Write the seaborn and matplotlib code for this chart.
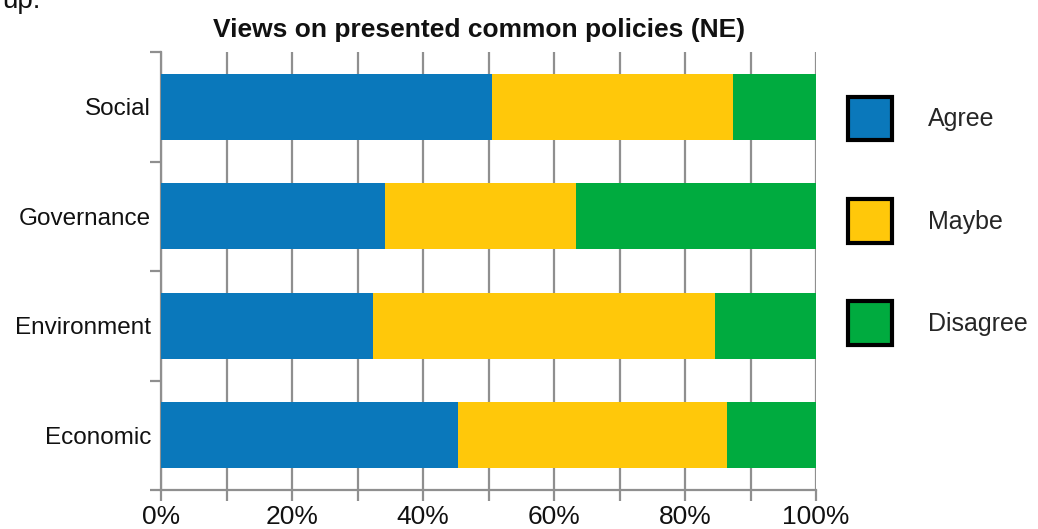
import numpy as np
import pandas as pd
import matplotlib
matplotlib.use("Agg")
import matplotlib.pyplot as plt
import seaborn as sns
from matplotlib.patches import Patch
from matplotlib.ticker import MultipleLocator, FixedLocator

# data (percent of respondents)
categories = ["Social", "Governance", "Environment", "Economic"]
agree = [50.5, 34.2, 32.4, 45.3]
maybe = [36.8, 29.2, 52.2, 41.1]
disagree = [12.7, 36.6, 15.4, 13.6]
series_names = ["Agree", "Maybe", "Disagree"]
colors = ["#0a78bb", "#ffc80a", "#00ab3f"]

sns.set_theme(style="white")
plt.rcParams["font.family"] = ["Liberation Sans", "DejaVu Sans"]

df = pd.DataFrame({"Category": categories, "Agree": agree,
                   "Maybe": maybe, "Disagree": disagree})
df["cum_maybe"] = df["Agree"] + df["Maybe"]
df["cum_all"] = df["cum_maybe"] + df["Disagree"]

fig = plt.figure(figsize=(10.38, 5.29), dpi=100)
ax = fig.add_axes([0.1551, 0.0737, 0.6311, 0.828])

# stacked by overlaying cumulative totals, back to front
for col, c in zip(["cum_all", "cum_maybe", "Agree"], colors[::-1]):
    sns.barplot(data=df, y="Category", x=col, orient="h", color=c,
                width=0.6, saturation=1, linewidth=0, ax=ax, zorder=3)

ax.set_xlim(0, 100)
ax.set_ylim(3.5, -0.5)
ax.xaxis.set_major_locator(MultipleLocator(20))
ax.xaxis.set_minor_locator(MultipleLocator(10))
ax.set_xticklabels([f"{int(v)}%" for v in ax.get_xticks()])
ax.grid(True, axis="x", which="both", color="#8f8f8f", linewidth=1.6, zorder=0)
ax.set_axisbelow(True)

ax.yaxis.set_minor_locator(FixedLocator(np.arange(-0.5, 4, 1)))
ax.tick_params(axis="y", which="major", length=0, pad=7, labelsize=17.5, labelcolor="#111111")
ax.tick_params(axis="y", which="minor", length=8, width=1.6, color="#8f8f8f", left=True)
ax.tick_params(axis="x", which="both", length=8, width=1.6, color="#8f8f8f",
               bottom=True, labelsize=19, labelcolor="#111111", pad=3)
ax.set_xlabel("")
ax.set_ylabel("")

for s in ["top", "right"]:
    ax.spines[s].set_visible(False)
for s in ["left", "bottom"]:
    ax.spines[s].set_color("#8f8f8f")
    ax.spines[s].set_linewidth(1.6)
ax.spines["bottom"].set_zorder(4)

ax.set_title("Views on presented common policies (NE)", fontsize=19,
             fontweight="bold", color="#111111", pad=11, x=0.485)

handles = [Patch(facecolor=c, edgecolor="black", linewidth=3) for c in colors]
fig.legend(handles, series_names, loc="upper left", bbox_to_anchor=(0.817, 0.817),
           frameon=False, fontsize=18, handlelength=1.75, handleheight=2.3,
           handletextpad=1.45, labelspacing=2.35, borderaxespad=0, borderpad=0)

fig.text(0.002, 0.985, "up:", fontsize=20, va="baseline", color="#111111")

fig.savefig("out.png", dpi=100)
